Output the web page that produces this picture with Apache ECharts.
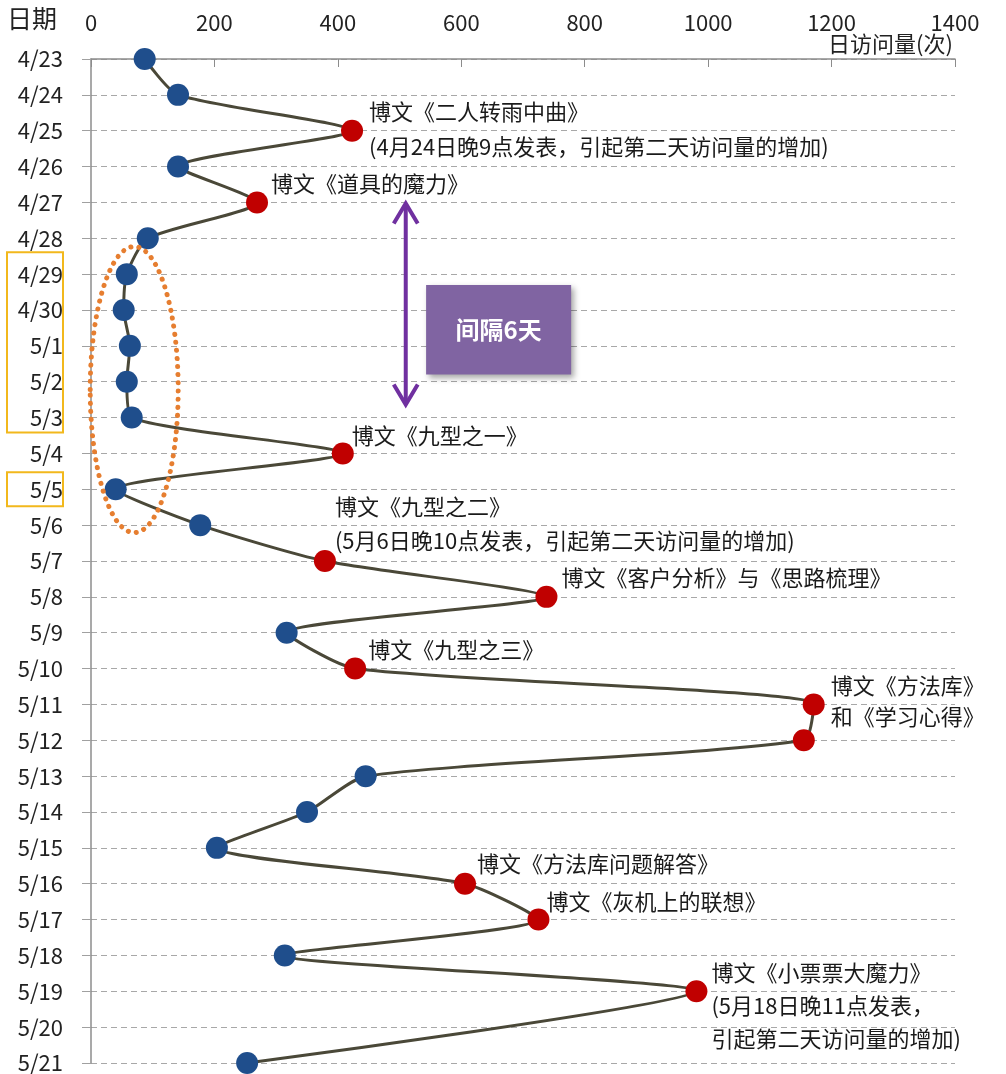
<!DOCTYPE html>
<html>
<head>
<meta charset="utf-8">
<script src="https://cdn.jsdelivr.net/npm/echarts@6/dist/echarts.min.js"></script>
<style>
  html, body { margin: 0; padding: 0; background: #fff; }
  #chart { width: 1006px; height: 1074px; }
</style>
</head>
<body>
<div id="chart"></div>
<script>
// Daily blog visits, 4/23 – 5/21
const dates = ['4/23','4/24','4/25','4/26','4/27','4/28','4/29','4/30',
  '5/1','5/2','5/3','5/4','5/5','5/6','5/7','5/8','5/9','5/10','5/11','5/12',
  '5/13','5/14','5/15','5/16','5/17','5/18','5/19','5/20','5/21'];
const visits = [87, 141, 423, 141, 269, 92, 58, 53,
  63, 58, 66, 408, 40, 177, 379, 738, 317, 428, 1171, 1155,
  445, 350, 204, 606, 725, 314, 981, null, 253];

// Days on which a new post pushed traffic up
const postDays = ['4/25','4/27','5/4','5/7','5/8','5/10','5/11','5/12','5/16','5/17','5/19'];

// Post notes
const notes = {
  '4/25': '博文《二人转雨中曲》\n(4月24日晚9点发表，引起第二天访问量的增加)',
  '4/27': '博文《道具的魔力》',
  '5/4':  '博文《九型之一》',
  '5/7':  '博文《九型之二》\n(5月6日晚10点发表，引起第二天访问量的增加)',
  '5/8':  '博文《客户分析》与《思路梳理》',
  '5/10': '博文《九型之三》',
  '5/11': '博文《方法库》\n和《学习心得》',
  '5/16': '博文《方法库问题解答》',
  '5/17': '博文《灰机上的联想》',
  '5/19': '博文《小票票大魔力》\n(5月18日晚11点发表，\n引起第二天访问量的增加)'
};

// Where each note sits relative to its point
const noteOffsets = {
  '4/25': [1, -2], '4/27': [-2, -19], '5/4': [-7, -18], '5/7': [-6, -37],
  '5/8': [-1, -19], '5/10': [-3, -19], '5/11': [1, -3], '5/16': [-4, -20],
  '5/17': [-8, -18], '5/19': [-1, 14]
};
const noteLineHeights = { '4/25': 35, '5/7': 34, '5/11': 31, '5/19': 33 };

const BLUE = '#1F4E8C';
const RED = '#C00000';
const FONT = '"Noto Sans CJK SC", "Noto Sans", sans-serif';

const seriesData = dates.map(function (d, i) {
  const item = {
    value: visits[i],
    itemStyle: { color: postDays.indexOf(d) >= 0 ? RED : BLUE }
  };
  if (notes[d]) {
    item.label = {
      show: true,
      position: 'right',
      distance: 5,
      offset: noteOffsets[d],
      formatter: notes[d],
      lineHeight: noteLineHeights[d] || 30,
      fontSize: 22,
      color: '#1a1a1a',
      fontFamily: FONT
    };
  }
  return item;
});

const chart = echarts.init(document.getElementById('chart'), null, { renderer: 'canvas' });

chart.setOption({
  animation: false,
  backgroundColor: '#ffffff',
  grid: { left: 91, right: 51, top: 59, bottom: 10, containLabel: false },
  xAxis: {
    type: 'value',
    position: 'top',
    min: 0,
    max: 1400,
    interval: 200,
    axisLine: { show: true, lineStyle: { color: '#8c8c8c', width: 1.5 } },
    axisTick: { show: true, inside: true, length: 8, lineStyle: { color: '#8c8c8c' } },
    axisLabel: { margin: 25, fontSize: 22, color: '#222', fontFamily: FONT,
      formatter: function (v) { return String(v); } },
    splitLine: { show: false }
  },
  yAxis: {
    type: 'category',
    inverse: true,
    boundaryGap: false,
    data: dates,
    axisLine: { show: true, lineStyle: { color: '#8c8c8c', width: 1.5 } },
    axisTick: { show: true, length: 9, lineStyle: { color: '#a0a0a0' } },
    axisLabel: { margin: 28, fontSize: 22, color: '#222', fontFamily: FONT },
    splitLine: { show: true, lineStyle: { color: '#a8a8a8', type: [6, 4], width: 1 } }
  },
  series: [{
    type: 'line',
    data: seriesData,
    smooth: 0.22,
    connectNulls: true,
    symbol: 'circle',
    symbolSize: 22,
    lineStyle: { color: '#4a4838', width: 3 },
    z: 3
  }]
});

// Annotation overlays placed through the grid's coordinate system
function xPx(value) {
  return chart.convertToPixel({ xAxisIndex: 0 }, value);
}
const y0 = chart.convertToPixel({ yAxisIndex: 0 }, 0);
const step = chart.convertToPixel({ yAxisIndex: 0 }, 1) - y0;
function yPx(pos) { return y0 + pos * step; }   // fractional category positions
const idx = function (d) { return dates.indexOf(d); };

const ax = xPx(510);
const y1 = yPx(idx('4/27')) + 1;
const y2 = yPx(idx('5/3')) - 13;
const bx1 = xPx(543), bx2 = xPx(778);
const by1 = yPx(6.3), by2 = yPx(8.8);

const yb1Top = yPx(idx('4/29')) - 22;
const yb1Bot = yPx(idx('5/3')) + 15;
const yb2Top = yPx(idx('5/5')) - 17;
const yb2Bot = yPx(idx('5/5')) + 17;

chart.setOption({
  graphic: [
    { type: 'text', left: 7, top: 6,
      style: { text: '日期', fontSize: 25, fill: '#222', fontFamily: FONT } },
    { type: 'text', left: 828, top: 33,
      style: { text: '日访问量(次)', fontSize: 22, fill: '#222', fontFamily: FONT } },
    // highlighted holiday rows
    { type: 'rect', shape: { x: 7, y: yb1Top, width: 56, height: yb1Bot - yb1Top },
      style: { fill: 'none', stroke: '#F2B81C', lineWidth: 2 }, z: 10 },
    { type: 'rect', shape: { x: 7, y: yb2Top, width: 56, height: yb2Bot - yb2Top },
      style: { fill: 'none', stroke: '#F2B81C', lineWidth: 2 }, z: 10 },
    // dotted ring around the low-traffic stretch
    { type: 'ellipse', shape: { cx: xPx(70), cy: yPx(9.22), rx: 44, ry: 143 },
      style: { fill: 'none', stroke: '#E67E30', lineWidth: 5, lineDash: [0.1, 8], lineCap: 'round' }, z: 10 },
    // double-headed gap arrow
    { type: 'line', shape: { x1: ax, y1: y1 + 2, x2: ax, y2: y2 - 2 },
      style: { stroke: '#7030A0', lineWidth: 4 }, z: 10 },
    { type: 'polyline', shape: { points: [[ax - 12, y1 + 20], [ax, y1], [ax + 12, y1 + 20]] },
      style: { fill: 'none', stroke: '#7030A0', lineWidth: 4, lineJoin: 'miter' }, z: 10 },
    { type: 'polyline', shape: { points: [[ax - 12, y2 - 20], [ax, y2], [ax + 12, y2 - 20]] },
      style: { fill: 'none', stroke: '#7030A0', lineWidth: 4, lineJoin: 'miter' }, z: 10 },
    // gap callout
    { type: 'group', z: 11, children: [
      { type: 'rect',
        shape: { x: bx1, y: by1, width: bx2 - bx1, height: by2 - by1 },
        style: { fill: '#8064A2', shadowBlur: 6, shadowOffsetX: 3, shadowOffsetY: 3, shadowColor: 'rgba(0,0,0,0.35)' } },
      { type: 'text', x: (bx1 + bx2) / 2, y: (by1 + by2) / 2,
        style: { text: '间隔6天', fontSize: 24, fontWeight: 'bold', fill: '#ffffff',
          fontFamily: FONT, align: 'center', verticalAlign: 'middle' } }
    ] }
  ]
});
</script>
</body>
</html>
